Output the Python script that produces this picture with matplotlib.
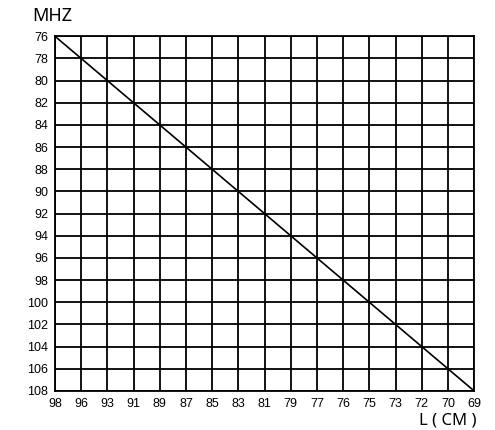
import matplotlib.pyplot as plt

plt.rcParams['font.family'] = ['Liberation Sans', 'DejaVu Sans']

# antenna length (cm) labels along the x axis, and frequency (MHz) at each
length_labels = ["98", "96", "93", "91", "89", "87", "85", "83", "81",
                 "79", "77", "76", "75", "73", "72", "70", "69"]
freq_mhz = [76, 78, 80, 82, 84, 86, 88, 90, 92,
            94, 96, 98, 100, 102, 104, 106, 108]
y_ticks = list(range(76, 109, 2))

fig = plt.figure(figsize=(4.95, 4.3), dpi=100)
ax = fig.add_axes([0.111, 0.0907, 0.847, 0.825])

xs = list(range(len(length_labels)))
ax.plot(xs, freq_mhz, color="black", linewidth=1.2, solid_capstyle="butt")

ax.set_xlim(0, len(length_labels) - 1)
ax.set_ylim(108, 76)
ax.set_xticks(xs)
ax.set_xticklabels(length_labels)
ax.set_yticks(y_ticks)
ax.tick_params(axis="x", length=0, labelsize=9, pad=5)
ax.tick_params(axis="y", length=0, labelsize=9, pad=5)
ax.grid(True, color="black", linewidth=1.3)
for s in ax.spines.values():
    s.set_linewidth(1.3)

fig.text(0.065, 0.962, "MHZ", fontsize=13, ha="left", va="center",
         family=["Noto Sans", "DejaVu Sans"])
fig.text(0.962, 0.023, "L ( CM )", fontsize=12, ha="right", va="center",
         family=["Noto Sans", "DejaVu Sans"])

fig.savefig("out.png", dpi=100)
